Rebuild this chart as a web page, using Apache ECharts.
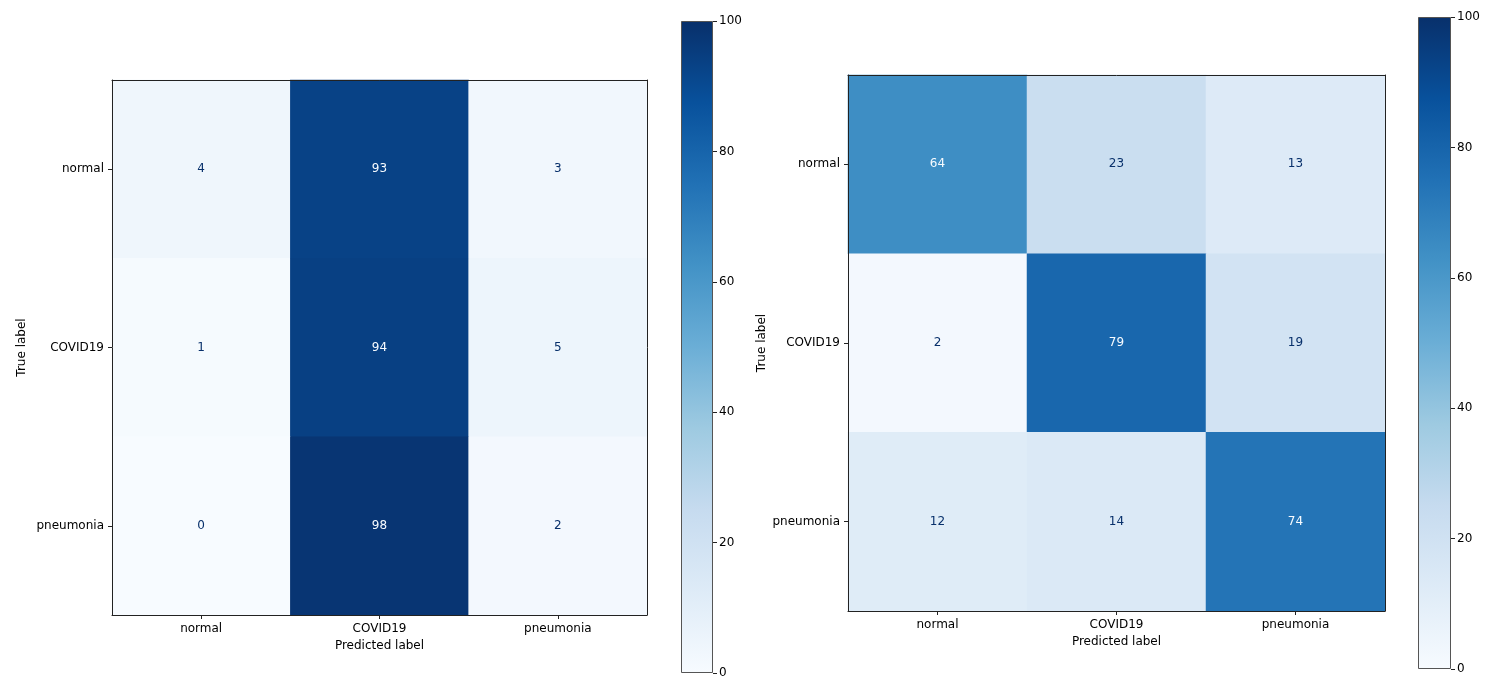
<!DOCTYPE html>
<html>
<head>
<meta charset="utf-8">
<script src="https://cdn.jsdelivr.net/npm/echarts@6/dist/echarts.min.js"></script>
<style>html,body{margin:0;padding:0;background:#fff;}#c{width:1509px;height:691px;}</style>
</head>
<body>
<div id="c"></div>
<script>
const categories = ['normal', 'COVID19', 'pneumonia'];
const leftMatrix = [
  [4, 93, 3],
  [1, 94, 5],
  [0, 98, 2]
];
const rightMatrix = [
  [64, 23, 13],
  [2, 79, 19],
  [12, 14, 74]
];
const colorbarMax = [100];
const colorbarTicks = [0, 20, 40, 60, 80, 100];
const blues = ['#f7fbff','#deebf7','#c6dbef','#9ecae1','#6baed6','#4292c6','#2171b5','#08519c','#08306b'];

const FONT = 'DejaVu Sans';
const chart = echarts.init(document.getElementById('c'));

function cells(m) {
  const flat = m.flat();
  const thr = (Math.max(...flat) + Math.min(...flat)) / 2;
  const out = [];
  m.forEach((row, r) => row.forEach((v, c) => {
    out.push({ value: [c, r, v], label: { color: v > thr ? blues[0] : blues[8] } });
  }));
  return out;
}

const grids = [
  { left: 112, top: 80, width: 535, height: 535 },
  { left: 681, top: 21, width: 32, height: 652 },
  { left: 848, top: 75, width: 537, height: 536 },
  { left: 1418, top: 17, width: 33, height: 652 }
];

const lineStyle = { color: '#222', width: 1 };
const xAxes = [], yAxes = [], series = [];

function addMatrix(gi, data, nameGapY) {
  const xi = xAxes.length, yi = yAxes.length;
  xAxes.push({
    gridIndex: gi, type: 'category', data: categories, position: 'bottom', z: 10,
    axisLine: { show: true, lineStyle }, axisTick: { show: true, alignWithLabel: true, length: 4, lineStyle },
    axisLabel: { fontFamily: FONT, fontSize: 12, color: '#000', margin: 8 },
    name: 'Predicted label', nameLocation: 'middle', nameGap: 24,
    nameTextStyle: { fontFamily: FONT, fontSize: 12, color: '#000' }
  });
  xAxes.push({
    gridIndex: gi, type: 'category', data: categories, position: 'top', z: 10,
    axisLine: { show: true, lineStyle }, axisTick: { show: false }, axisLabel: { show: false }
  });
  yAxes.push({
    gridIndex: gi, type: 'category', data: categories, inverse: true, position: 'left', z: 10,
    axisLine: { show: true, lineStyle }, axisTick: { show: true, alignWithLabel: true, length: 4, lineStyle },
    axisLabel: { fontFamily: FONT, fontSize: 12, color: '#000', margin: 8 },
    name: 'True label', nameLocation: 'middle', nameGap: nameGapY,
    nameTextStyle: { fontFamily: FONT, fontSize: 12, color: '#000' }
  });
  yAxes.push({
    gridIndex: gi, type: 'category', data: categories, inverse: true, position: 'right', z: 10,
    axisLine: { show: true, lineStyle }, axisTick: { show: false }, axisLabel: { show: false }
  });
  series.push({
    type: 'heatmap', xAxisIndex: xi, yAxisIndex: yi, data: cells(data),
    label: { show: true, fontFamily: FONT, fontSize: 12 },
    itemStyle: { borderWidth: 0 }, emphasis: { disabled: true }
  });
}

function addColorbar(gi) {
  const xi = xAxes.length, yi = yAxes.length;
  xAxes.push({ gridIndex: gi, type: 'category', data: [''], show: false });
  yAxes.push({
    gridIndex: gi, type: 'value', min: 0, max: 100, interval: 20, position: 'right',
    splitLine: { show: false }, axisLine: { show: false },
    axisTick: { show: true, length: 4, lineStyle: { color: '#222' } },
    axisLabel: { fontFamily: FONT, fontSize: 12, color: '#000', margin: 6,
      formatter: v => colorbarTicks.includes(v) ? String(v) : '' }
  });
  series.push({
    type: 'bar', xAxisIndex: xi, yAxisIndex: yi, data: colorbarMax, barWidth: '100%',
    itemStyle: {
      borderColor: '#555', borderWidth: 1,
      color: new echarts.graphic.LinearGradient(0, 1, 0, 0,
        blues.map((c, i) => ({ offset: i / (blues.length - 1), color: c })))
    },
    emphasis: { disabled: true }, silent: true
  });
}

addMatrix(0, leftMatrix, 84);
addColorbar(1);
addMatrix(2, rightMatrix, 80);
addColorbar(3);

chart.setOption({
  animation: false,
  backgroundColor: '#fff',
  grid: grids,
  xAxis: xAxes,
  yAxis: yAxes,
  visualMap: [
    { show: false, min: 0, max: 100, seriesIndex: 0, inRange: { color: blues } },
    { show: false, min: 0, max: 100, seriesIndex: 2, inRange: { color: blues } }
  ],
  series
});
</script>
</body>
</html>
